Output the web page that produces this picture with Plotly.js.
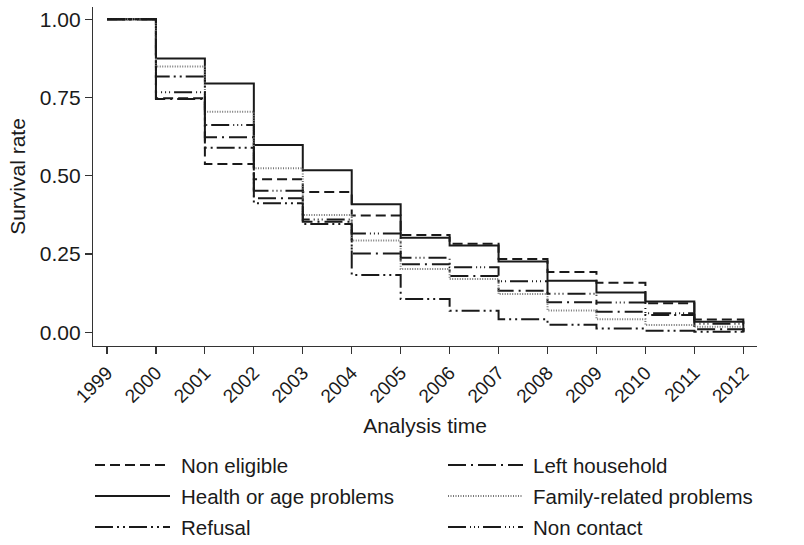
<!DOCTYPE html>
<html>
<head>
<meta charset="utf-8">
<script src="https://cdn.plot.ly/plotly-3.0.1.min.js"></script>
<style>html,body{margin:0;padding:0;background:#fff;}#chart{width:804px;height:545px;}</style>
</head>
<body>
<div id="chart"></div>
<script>
// ---- data ----
const years = [1999, 2000, 2001, 2002, 2003, 2004, 2005, 2006, 2007, 2008, 2009, 2010, 2011, 2012];
const seriesNames = ["Non eligible", "Left household", "Health or age problems", "Family-related problems", "Refusal", "Non contact"];
const nonEligible   = [1, 0.748, 0.538, 0.489, 0.448, 0.373, 0.311, 0.283, 0.234, 0.193, 0.158, 0.093, 0.041, 0];
const leftHousehold = [1, 0.745, 0.623, 0.428, 0.353, 0.252, 0.217, 0.180, 0.133, 0.096, 0.066, 0.055, 0.010, 0];
const healthAge     = [1, 0.875, 0.795, 0.598, 0.518, 0.409, 0.302, 0.277, 0.226, 0.165, 0.127, 0.098, 0.034, 0];
const familyRelated = [1, 0.849, 0.705, 0.524, 0.375, 0.293, 0.202, 0.170, 0.122, 0.070, 0.042, 0.023, 0.018, 0];
const refusal       = [1, 0.817, 0.590, 0.412, 0.346, 0.183, 0.106, 0.069, 0.042, 0.024, 0.012, 0.005, 0.002, 0];
const nonContact    = [1, 0.767, 0.662, 0.452, 0.360, 0.316, 0.238, 0.208, 0.163, 0.123, 0.095, 0.061, 0.027, 0];
const yTicks = [0, 0.25, 0.5, 0.75, 1];
const yTickLabels = ["0.00", "0.25", "0.50", "0.75", "1.00"];
const xTickLabels = years.map(String);

// ---- styles ----
const values = [nonEligible, leftHousehold, healthAge, familyRelated, refusal, nonContact];
const styles = [
  {color: "#1a1a1a", width: 2, dash: "10px,5px"},
  {color: "#1a1a1a", width: 2, dash: "18px,5px,2px,5px"},
  {color: "#1a1a1a", width: 2, dash: "solid"},
  {color: "#777777", width: 2, dash: "1px,1.5px"},
  {color: "#1a1a1a", width: 2, dash: "18px,4px,2px,4px,2px,4px"},
  {color: "#1a1a1a", width: 2, dash: "18px,4px,1px,3px,1px,3px,1px,4px"}
];

const traces = values.map((v, i) => ({
  type: "scatter", mode: "lines", x: years, y: v, name: seriesNames[i],
  line: Object.assign({shape: "hv"}, styles[i]), showlegend: false, hoverinfo: "x+y+name"
}));

// layout geometry (pixels)
const W = 804, H = 545, ML = 93, MR = 47, MT = 7, MB = 199;
const PW = W - ML - MR, PH = H - MT - MB;
const px2x = p => (p - ML) / PW;
const py2y = p => (H - MB - p) / PH;
const FONT = "Liberation Sans, Arial, Helvetica, sans-serif";

// custom legend (two columns, three rows), centred under the plot region
const legendRows = [465, 496, 527];
const legendCols = [{x0: 95, x1: 170, tx: 179}, {x0: 448, x1: 523, tx: 531}];
const shapes = [], annotations = [];
seriesNames.forEach((n, i) => {
  const col = legendCols[i % 2], row = legendRows[Math.floor(i / 2)];
  shapes.push({type: "line", xref: "paper", yref: "paper",
    x0: px2x(col.x0), x1: px2x(col.x1), y0: py2y(row), y1: py2y(row),
    line: {color: styles[i].color, width: styles[i].width, dash: styles[i].dash}});
  annotations.push({xref: "paper", yref: "paper", x: px2x(col.tx), y: py2y(row),
    xanchor: "left", yanchor: "middle", showarrow: false, text: n,
    font: {family: FONT, size: 20.5, color: "#1a1a1a"}});
});

const layout = {
  width: W, height: H,
  margin: {l: ML, r: MR, t: MT, b: MB, pad: 0},
  paper_bgcolor: "#fff", plot_bgcolor: "#fff",
  font: {family: FONT, size: 20, color: "#1a1a1a"},
  showlegend: false,
  xaxis: {
    range: [1998.714, 2012.28], tickmode: "array", tickvals: years, ticktext: xTickLabels,
    tickangle: -45, ticks: "outside", ticklen: 7, tickwidth: 1.2, tickcolor: "#333",
    showline: true, linecolor: "#333", linewidth: 1.2, showgrid: false, zeroline: false,
    tickfont: {family: FONT, size: 19, color: "#1a1a1a"},
    title: {text: "Analysis time", font: {family: FONT, size: 21, color: "#1a1a1a"}, standoff: 12},
    automargin: false
  },
  yaxis: {
    range: [-0.0438, 1.0393], tickmode: "array", tickvals: yTicks, ticktext: yTickLabels,
    ticks: "outside", ticklen: 7, tickwidth: 1.2, tickcolor: "#333",
    showline: true, linecolor: "#333", linewidth: 1.2, showgrid: false, zeroline: false,
    tickfont: {family: FONT, size: 21, color: "#1a1a1a"},
    title: {text: "Survival rate", font: {family: FONT, size: 21, color: "#1a1a1a"}, standoff: 8},
    automargin: false
  },
  shapes: shapes,
  annotations: annotations
};

Plotly.newPlot("chart", traces, layout, {staticPlot: true, displayModeBar: false});
</script>
</body>
</html>
